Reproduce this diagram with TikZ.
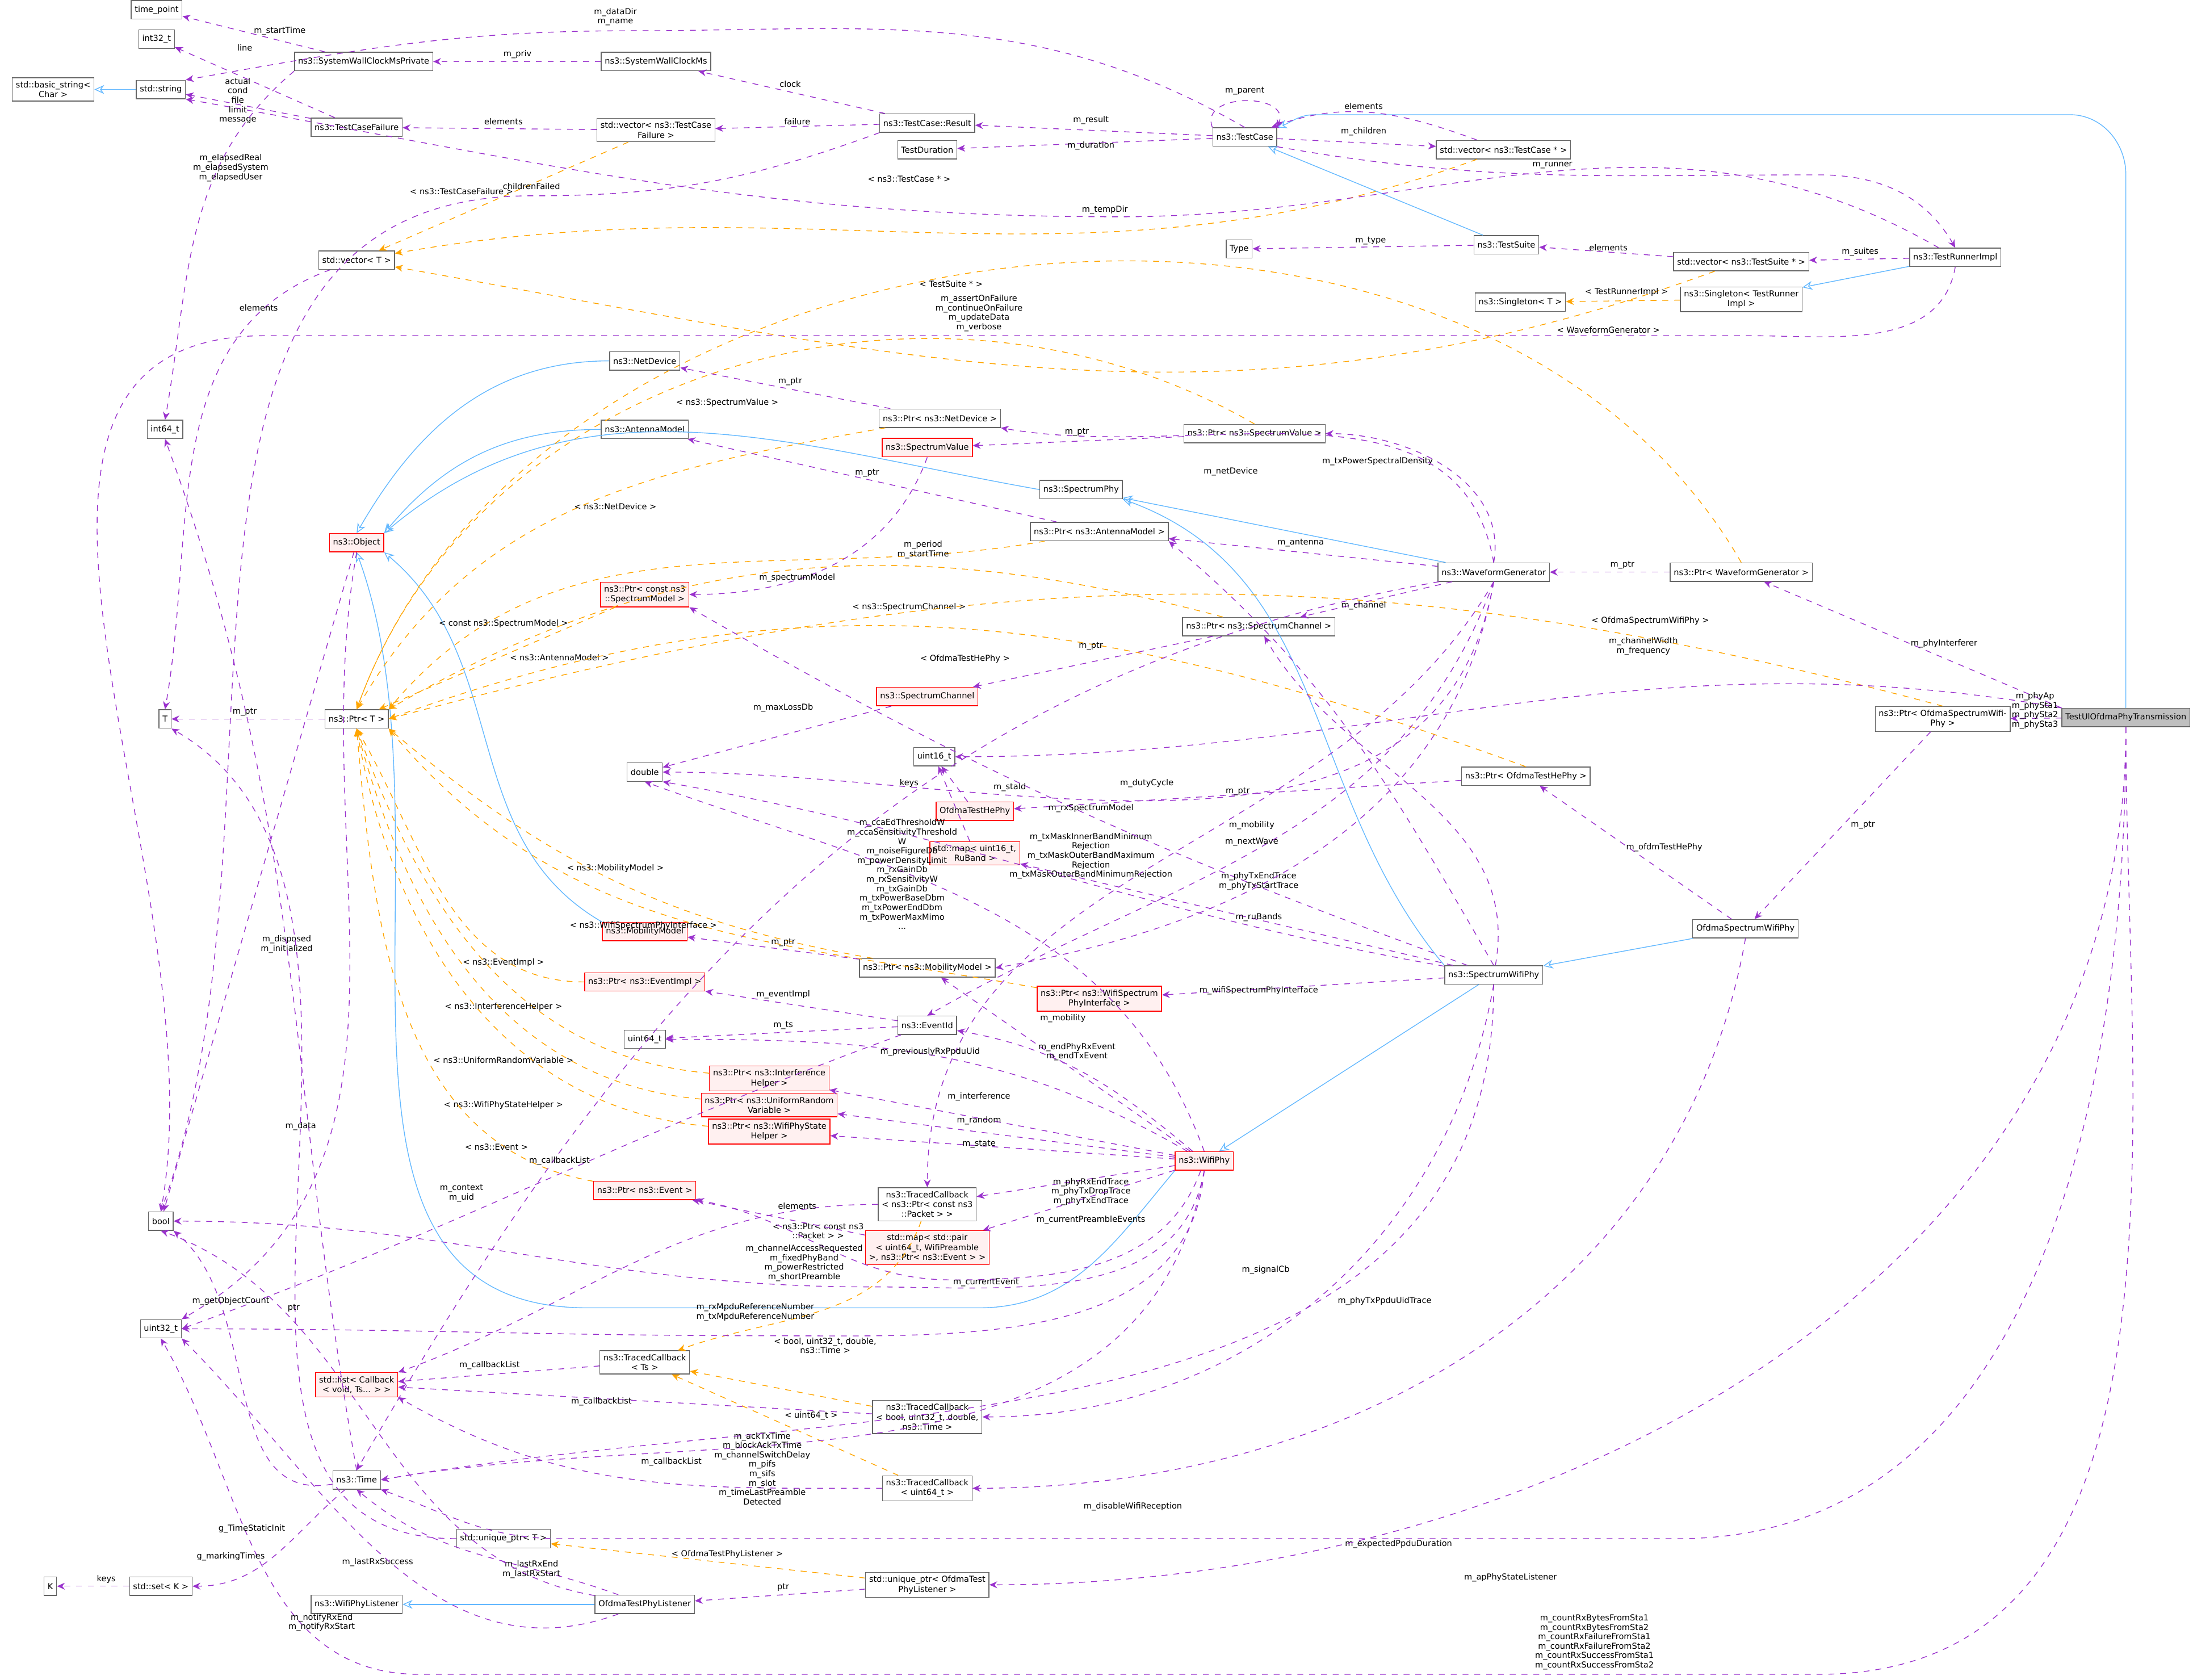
\documentclass[tikz,border=0pt]{standalone}
\usepackage{fontspec}
\setmainfont{DejaVu Sans}
\usetikzlibrary{arrows.meta}
\definecolor{usec}{HTML}{9A32CD}
\definecolor{inhc}{HTML}{63B8FF}
\definecolor{tmc}{HTML}{FFA500}
\definecolor{redf}{HTML}{FFF0F0}
\tikzset{
 box/.style={draw=black!60,fill=white,font=\fontsize{4.2}{5}\selectfont,inner sep=1.8pt,align=center,minimum height=0.33cm},
 rbox/.style={box,draw=red,fill=redf},
 gbox/.style={box,fill=black!25},
 use/.style={draw=usec,dashed,-{Stealth[length=4pt,width=3.5pt]},thin},
 tmpl/.style={draw=tmc,dashed,-{Stealth[length=4pt,width=3.5pt]},thin},
 inh/.style={draw=inhc,-{Stealth[open,length=5pt,width=4.5pt]},thin},
 lb/.style={font=\fontsize{4.2}{4.8}\selectfont,align=center,inner sep=0.5pt}
}
\begin{document}
\begin{tikzpicture}[x=0.025cm,y=-0.025cm]
\useasboundingbox (0,0) rectangle (1568,1201);
% nodes
\node[box] (tp) at (112,7) {time\_point};
\node[box] (i32) at (112,28) {int32\_t};
\node[box] (bstr) at (38,64) {std::basic\_string\textless\\Char \textgreater};
\node[box] (str) at (115,64) {std::string};
\node[box] (swcp) at (260,44) {ns3::SystemWallClockMsPrivate};
\node[box] (tcf) at (255,91) {ns3::TestCaseFailure};
\node[box] (swc) at (469,44) {ns3::SystemWallClockMs};
\node[box] (vtcf) at (469,93) {std::vector\textless{} ns3::TestCase\\Failure \textgreater};
\node[box] (res) at (663,88) {ns3::TestCase::Result};
\node[box] (tdur) at (663,107) {TestDuration};
\node[box] (tc) at (890,98) {ns3::TestCase};
\node[box] (vtc) at (1075,107) {std::vector\textless{} ns3::TestCase * \textgreater};
\node[box] (vt) at (255,186) {std::vector\textless{} T \textgreater};
\node[box] (type) at (886,178) {Type};
\node[box] (ts) at (1077,175) {ns3::TestSuite};
\node[box] (vts) at (1245,187) {std::vector\textless{} ns3::TestSuite * \textgreater};
\node[box] (tri) at (1398,184) {ns3::TestRunnerImpl};
\node[box] (sgt) at (1087,216) {ns3::Singleton\textless{} T \textgreater};
\node[box] (sgtr) at (1245,214) {ns3::Singleton\textless{} TestRunner\\Impl \textgreater};
\node[box] (i64) at (118,307) {int64\_t};
\node[box] (nd) at (461,258) {ns3::NetDevice};
\node[box] (pnd) at (672,299) {ns3::Ptr\textless{} ns3::NetDevice \textgreater};
\node[rbox] (sv) at (663,320) {ns3::SpectrumValue};
\node[box] (psv) at (897,310) {ns3::Ptr\textless{} ns3::SpectrumValue \textgreater};
\node[box] (am) at (461,307) {ns3::AntennaModel};
\node[box] (sp) at (773,350) {ns3::SpectrumPhy};
\node[rbox] (obj) at (255,388) {ns3::Object};
\node[box] (pam) at (786,380) {ns3::Ptr\textless{} ns3::AntennaModel \textgreater};
\node[box] (wg) at (1068,409) {ns3::WaveformGenerator};
\node[box] (pwg) at (1245,409) {ns3::Ptr\textless{} WaveformGenerator \textgreater};
\node[rbox] (psm) at (461,425) {ns3::Ptr\textless{} const ns3\\::SpectrumModel \textgreater};
\node[box] (psc) at (900,448) {ns3::Ptr\textless{} ns3::SpectrumChannel \textgreater};
\node[box] (T) at (118,514) {T};
\node[box] (pt) at (255,514) {ns3::Ptr\textless{} T \textgreater};
\node[rbox] (sc) at (663,498) {ns3::SpectrumChannel};
\node[box] (dbl) at (461,552) {double};
\node[box] (u16) at (668,541) {uint16\_t};
\node[rbox] (othp) at (697,580) {OfdmaTestHePhy};
\node[box] (pothp) at (1091,555) {ns3::Ptr\textless{} OfdmaTestHePhy \textgreater};
\node[rbox] (rub) at (697,610) {std::map\textless{} uint16\_t,\\RuBand \textgreater};
\node[box] (posw) at (1389,514) {ns3::Ptr\textless{} OfdmaSpectrumWifi-\\Phy \textgreater};
\node[gbox] (tul) at (1520,513) {TestUlOfdmaPhyTransmission};
\node[rbox] (mm) at (461,666) {ns3::MobilityModel};
\node[box] (pmm) at (663,692) {ns3::Ptr\textless{} ns3::MobilityModel \textgreater};
\node[box] (osw) at (1248,664) {OfdmaSpectrumWifiPhy};
\node[box] (swp) at (1068,697) {ns3::SpectrumWifiPhy};
\node[rbox] (pei) at (461,702) {ns3::Ptr\textless{} ns3::EventImpl \textgreater};
\node[rbox] (pwspi) at (786,714) {ns3::Ptr\textless{} ns3::WifiSpectrum\\PhyInterface \textgreater};
\node[box] (eid) at (663,733) {ns3::EventId};
\node[box] (u64) at (461,743) {uint64\_t};
\node[rbox] (pih) at (550,771) {ns3::Ptr\textless{} ns3::Interference\\Helper \textgreater};
\node[rbox] (purv) at (550,790) {ns3::Ptr\textless{} ns3::UniformRandom\\Variable \textgreater};
\node[rbox] (psh) at (550,809) {ns3::Ptr\textless{} ns3::WifiPhyState\\Helper \textgreater};
\node[rbox] (wp) at (861,830) {ns3::WifiPhy};
\node[rbox] (pev) at (461,851) {ns3::Ptr\textless{} ns3::Event \textgreater};
\node[box] (tcp) at (663,861) {ns3::TracedCallback\\\textless{} ns3::Ptr\textless{} const ns3\\::Packet \textgreater{} \textgreater};
\node[rbox] (mpe) at (663,892) {std::map\textless{} std::pair\\\textless{} uint64\_t, WifiPreamble\\\textgreater, ns3::Ptr\textless{} ns3::Event \textgreater{} \textgreater};
\node[box] (bool) at (115,873) {bool};
\node[box] (u32) at (115,950) {uint32\_t};
\node[box] (tcts) at (461,974) {ns3::TracedCallback\\\textless{} Ts \textgreater};
\node[rbox] (lst) at (255,990) {std::list\textless{} Callback\\\textless{} void, Ts... \textgreater{} \textgreater};
\node[box] (tcb) at (663,1013) {ns3::TracedCallback\\\textless{} bool, uint32\_t, double,\\ns3::Time \textgreater};
\node[box] (tcu) at (663,1064) {ns3::TracedCallback\\\textless{} uint64\_t \textgreater};
\node[box] (time) at (255,1058) {ns3::Time};
\node[box] (upt) at (360,1100) {std::unique\_ptr\textless{} T \textgreater};
\node[box] (upl) at (663,1133) {std::unique\_ptr\textless{} OfdmaTest\\PhyListener \textgreater};
\node[box] (K) at (36,1134) {K};
\node[box] (setk) at (115,1134) {std::set\textless{} K \textgreater};
\node[box] (wpl) at (255,1147) {ns3::WifiPhyListener};
\node[box] (otpl) at (461,1147) {OfdmaTestPhyListener};
% inheritance
\draw[inh] (str) -- (bstr);
\draw[inh] (ts) -- (tc);
\draw[inh] (tul.north) -- (1520,125) to[out=90,in=0] (1480,82) -- (940,82) to[out=180,in=20] (tc.north east);
\draw[inh] (tri) -- (sgtr);
\draw[inh] (nd.west) to[out=180,in=60] (obj.north);
\draw[inh] (am.west) to[out=180,in=50] (obj.north east);
\draw[inh] (sp.west) to[out=170,in=40] (obj.north east);
\draw[inh] (mm.north west) to[out=150,in=-40] (obj.south east);
\draw[inh] (wg) -- (sp);
\draw[inh] (swp.north west) to[out=130,in=-20] (sp.south east);
\draw[inh] (osw) -- (swp);
\draw[inh] (swp) -- (wp);
\draw[inh] (wp.south west) to[out=230,in=0] (700,935) -- (420,935) to[out=180,in=-70] (obj.south);
\draw[inh] (otpl) -- (wpl);
% template instantiation
\draw[tmpl] (vtcf) -- (vt) node[lb,at={(330,137)}] {\textless{} ns3::TestCaseFailure \textgreater};
\draw[tmpl] (vtc) to[out=200,in=10] (vt) node[lb,at={(650,128)}] {\textless{} ns3::TestCase * \textgreater};
\draw[tmpl] (vts) to[out=200,in=-10] (vt) node[lb,at={(680,203)}] {\textless{} TestSuite * \textgreater};
\draw[tmpl] (sgtr) -- (sgt) node[lb,at={(1163,209)}] {\textless{} TestRunnerImpl \textgreater};
\draw[tmpl] (pnd) to[out=190,in=60] (pt.north) node[lb,at={(440,362)}] {\textless{} ns3::NetDevice \textgreater};
\draw[tmpl] (psv.north) to[out=150,in=70] (pt.north) node[lb,at={(520,288)}] {\textless{} ns3::SpectrumValue \textgreater};
\draw[tmpl] (pam) to[out=190,in=50] (pt.north east) node[lb,at={(400,470)}] {\textless{} ns3::AntennaModel \textgreater};
\draw[tmpl] (pwg.north) to[out=120,in=70] (pt.north) node[lb,at={(1150,236)}] {\textless{} WaveformGenerator \textgreater};
\draw[tmpl] (psm) -- (pt) node[lb,at={(360,446)}] {\textless{} const ns3::SpectrumModel \textgreater};
\draw[tmpl] (psc) to[out=165,in=30] (pt.north east) node[lb,at={(650,434)}] {\textless{} ns3::SpectrumChannel \textgreater};
\draw[tmpl] (pothp.north) to[out=160,in=20] (pt.east) node[lb,at={(690,471)}] {\textless{} OfdmaTestHePhy \textgreater};
\draw[tmpl] (posw.north) to[out=165,in=15] (pt.east) node[lb,at={(1180,444)}] {\textless{} OfdmaSpectrumWifiPhy \textgreater};
\draw[tmpl] (pmm) to[out=170,in=-40] (pt.south east) node[lb,at={(440,621)}] {\textless{} ns3::MobilityModel \textgreater};
\draw[tmpl] (pwspi) to[out=170,in=-50] (pt.south east) node[lb,at={(460,662)}] {\textless{} ns3::WifiSpectrumPhyInterface \textgreater};
\draw[tmpl] (pei) to[out=180,in=-60] (pt.south) node[lb,at={(360,688)}] {\textless{} ns3::EventImpl \textgreater};
\draw[tmpl] (pih) to[out=175,in=-70] (pt.south) node[lb,at={(360,720)}] {\textless{} ns3::InterferenceHelper \textgreater};
\draw[tmpl] (purv) to[out=175,in=-75] (pt.south) node[lb,at={(360,758)}] {\textless{} ns3::UniformRandomVariable \textgreater};
\draw[tmpl] (psh) to[out=175,in=-80] (pt.south) node[lb,at={(360,790)}] {\textless{} ns3::WifiPhyStateHelper \textgreater};
\draw[tmpl] (pev) to[out=170,in=-85] (pt.south) node[lb,at={(355,820)}] {\textless{} ns3::Event \textgreater};
\draw[tmpl] (tcp) to[out=250,in=20] (tcts) node[lb,at={(585,880)}] {\textless{} ns3::Ptr\textless{} const ns3\\::Packet \textgreater{} \textgreater};
\draw[tmpl] (tcb) -- (tcts) node[lb,at={(590,962)}] {\textless{} bool, uint32\_t, double,\\ns3::Time \textgreater};
\draw[tmpl] (tcu) -- (tcts) node[lb,at={(580,1012)}] {\textless{} uint64\_t \textgreater};
\draw[tmpl] (upl) -- (upt) node[lb,at={(520,1111)}] {\textless{} OfdmaTestPhyListener \textgreater};
% usage
\draw[use] (swcp) -- (tp) node[lb,at={(200,22)}] {m\_startTime};
\draw[use] (tcf) -- (i32) node[lb,at={(175,34)}] {line};
\draw[use] (tcf) -- (str) node[lb,at={(170,72)}] {actual\\cond\\file\\limit\\message};
\draw[use] (swcp.south west) to[out=220,in=80] (i64.north) node[lb,at={(165,120)}] {m\_elapsedReal\\m\_elapsedSystem\\m\_elapsedUser};
\draw[use] (swc) -- (swcp) node[lb,at={(370,39)}] {m\_priv};
\draw[use] (vtcf) -- (tcf) node[lb,at={(360,87)}] {elements};
\draw[use] (res) -- (swc) node[lb,at={(565,60)}] {clock};
\draw[use] (res) -- (vtcf) node[lb,at={(570,87)}] {failure};
\draw[use] (res.south west) to[out=200,in=0] (380,140) to[out=180,in=70] (bool.north) node[lb,at={(380,133)}] {childrenFailed};
\draw[use] (tc) -- (res) node[lb,at={(780,86)}] {m\_result};
\draw[use] (tc) -- (tdur) node[lb,at={(780,104)}] {m\_duration};
\draw[use] (tc.north west) .. controls +(-10,-25) and +(10,-25) .. (tc.north east) node[lb,at={(890,65)}] {m\_parent};
\draw[use] (tc.north) to[out=150,in=0] (450,22) to[out=180,in=10] (str.north east) node[lb,at={(440,12)}] {m\_dataDir\\m\_name};
\draw[use] (tc) -- (vtc) node[lb,at={(975,94)}] {m\_children};
\draw[use] (vtc) to[out=160,in=20] (tc) node[lb,at={(975,76)}] {elements};
\draw[use] (tc.south east) to[out=-10,in=180] (1300,125) to[out=0,in=120] (tri.north) node[lb,at={(1110,118)}] {m\_runner};
\draw[use] (tri) to[out=150,in=0] (800,155) to[out=180,in=-10] (str.south east) node[lb,at={(790,150)}] {m\_tempDir};
\draw[use] (ts) -- (type) node[lb,at={(980,172)}] {m\_type};
\draw[use] (vts) -- (ts) node[lb,at={(1150,177)}] {elements};
\draw[use] (tri) -- (vts) node[lb,at={(1330,180)}] {m\_suites};
\draw[use] (tri.south) to[out=-100,in=0] (1250,240) -- (190,240) to[out=180,in=80] (bool.north) node[lb,at={(700,224)}] {m\_assertOnFailure\\m\_continueOnFailure\\m\_updateData\\m\_verbose};
\draw[use] (vt) to[out=200,in=80] (T.north) node[lb,at={(185,220)}] {elements};
\draw[use] (pnd) -- (nd) node[lb,at={(565,273)}] {m\_ptr};
\draw[use] (psv) -- (sv) node[lb,at={(770,309)}] {m\_ptr};
\draw[use] (wg.north) to[out=80,in=0] (psv.east) node[lb,at={(985,330)}] {m\_txPowerSpectralDensity};
\draw[use] (wg.north) to[out=100,in=-10] (pnd.south east) node[lb,at={(880,337)}] {m\_netDevice};
\draw[use] (pam) -- (am) node[lb,at={(620,338)}] {m\_ptr};
\draw[use] (wg) -- (pam) node[lb,at={(930,388)}] {m\_antenna};
\draw[use] (pwg) -- (wg) node[lb,at={(1160,404)}] {m\_ptr};
\draw[use] (tul.north west) -- (pwg) node[lb,at={(1390,460)}] {m\_phyInterferer};
\draw[use] (sv.south) to[out=-110,in=0] (psm.east) node[lb,at={(570,413)}] {m\_spectrumModel};
\draw[use] (wg) -- (psc) node[lb,at={(975,433)}] {m\_channel};
\draw[use] (psc) -- (sc) node[lb,at={(780,462)}] {m\_ptr};
\draw[use] (wg) to[out=190,in=60] (time.north) node[lb,at={(660,393)}] {m\_period\\m\_startTime};
\draw[use] (wg.south) to[out=-100,in=0] (dbl.east) node[lb,at={(820,560)}] {m\_dutyCycle};
\draw[use] (obj) -- (bool) node[lb,at={(205,675)}] {m\_disposed\\m\_initialized};
\draw[use] (pt) -- (T) node[lb,at={(175,509)}] {m\_ptr};
\draw[use] (sc) -- (dbl) node[lb,at={(560,506)}] {m\_maxLossDb};
\draw[use] (tul.north west) to[out=170,in=0] (u16.east) node[lb,at={(1175,462)}] {m\_channelWidth\\m\_frequency};
\draw[use] (othp) -- (u16) node[lb,at={(722,563)}] {m\_staId};
\draw[use] (rub) -- (u16) node[lb,at={(650,560)}] {keys};
\draw[use] (pothp) -- (othp) node[lb,at={(885,566)}] {m\_ptr};
\draw[use] (osw) -- (pothp) node[lb,at={(1190,606)}] {m\_ofdmTestHePhy};
\draw[use] (posw) -- (osw) node[lb,at={(1332,590)}] {m\_ptr};
\draw[use] (tul) -- (posw) node[lb,at={(1455,508)}] {m\_phyAp\\m\_phySta1\\m\_phySta2\\m\_phySta3};
\draw[use] (swp) -- (rub) node[lb,at={(900,656)}] {m\_ruBands};
\draw[use] (swp) to[out=80,in=-60] (psc);
\draw[use] (swp.north) to[out=120,in=-40] (pam.south east);
\draw[use] (swp) to[out=170,in=-10] (dbl.south east) node[lb,at={(780,612)}] {m\_txMaskInnerBandMinimum\\Rejection\\m\_txMaskOuterBandMaximum\\Rejection\\m\_txMaskOuterBandMinimumRejection};
\draw[use] (swp) to[out=160,in=-30] (psm.south east) node[lb,at={(780,578)}] {m\_rxSpectrumModel};
\draw[use] (swp) -- (pwspi) node[lb,at={(900,708)}] {m\_wifiSpectrumPhyInterface};
\draw[use] (wg.south) to[out=-120,in=90] (tcp.north) node[lb,at={(900,630)}] {m\_phyTxEndTrace\\m\_phyTxStartTrace};
\draw[use] (wg.south) to[out=-110,in=30] (eid.north) node[lb,at={(895,602)}] {m\_nextWave};
\draw[use] (wg.south) to[out=-100,in=10] (pmm.east) node[lb,at={(895,590)}] {m\_mobility};
\draw[use] (pmm) -- (mm) node[lb,at={(560,674)}] {m\_ptr};
\draw[use] (wp) -- (pmm) node[lb,at={(760,728)}] {m\_mobility};
\draw[use] (wp.north) to[out=110,in=-20] (dbl.south) node[lb,at={(645,625)}] {m\_ccaEdThresholdW\\m\_ccaSensitivityThreshold\\W\\m\_noiseFigureDb\\m\_powerDensityLimit\\m\_rxGainDb\\m\_rxSensitivityW\\m\_txGainDb\\m\_txPowerBaseDbm\\m\_txPowerEndDbm\\m\_txPowerMaxMimo\\...};
\draw[use] (eid) -- (pei) node[lb,at={(560,711)}] {m\_eventImpl};
\draw[use] (eid) -- (u64) node[lb,at={(560,733)}] {m\_ts};
\draw[use] (eid) to[out=200,in=20] (u32.east) node[lb,at={(330,853)}] {m\_context\\m\_uid};
\draw[use] (wp) to[out=140,in=-10] (eid) node[lb,at={(770,752)}] {m\_endPhyRxEvent\\m\_endTxEvent};
\draw[use] (wp) to[out=150,in=0] (u64) node[lb,at={(665,752)}] {m\_previouslyRxPpduUid};
\draw[use] (wp) -- (pih) node[lb,at={(700,784)}] {m\_interference};
\draw[use] (wp) -- (purv) node[lb,at={(700,801)}] {m\_random};
\draw[use] (wp) -- (psh) node[lb,at={(700,818)}] {m\_state};
\draw[use] (wp) -- (tcp) node[lb,at={(780,852)}] {m\_phyRxEndTrace\\m\_phyTxDropTrace\\m\_phyTxEndTrace};
\draw[use] (wp) -- (mpe) node[lb,at={(780,872)}] {m\_currentPreambleEvents};
\draw[use] (mpe) -- (pev) node[lb,at={(570,862)}] {elements};
\draw[use] (wp) to[out=-110,in=0] (680,915) to[out=180,in=-10] (pev.south east) node[lb,at={(705,917)}] {m\_currentEvent};
\draw[use] (wp.south) to[out=-100,in=0] (620,920) to[out=180,in=0] (bool.east) node[lb,at={(575,903)}] {m\_channelAccessRequested\\m\_fixedPhyBand\\m\_powerRestricted\\m\_shortPreamble};
\draw[use] (wp.south) to[out=-95,in=0] (560,955) to[out=180,in=0] (u32.east) node[lb,at={(540,938)}] {m\_rxMpduReferenceNumber\\m\_txMpduReferenceNumber};
\draw[use] (tcp) to[out=180,in=20] (lst.north east) node[lb,at={(400,830)}] {m\_callbackList};
\draw[use] (tcts) -- (lst) node[lb,at={(350,976)}] {m\_callbackList};
\draw[use] (tcb) -- (lst) node[lb,at={(430,1002)}] {m\_callbackList};
\draw[use] (tcu) to[out=180,in=-30] (lst.south east) node[lb,at={(480,1045)}] {m\_callbackList};
\draw[use] (swp.south) to[out=-100,in=0] (tcb.east) node[lb,at={(905,908)}] {m\_signalCb};
\draw[use] (wp.south) to[out=-100,in=10] (time.east) node[lb,at={(545,1050)}] {m\_ackTxTime\\m\_blockAckTxTime\\m\_channelSwitchDelay\\m\_pifs\\m\_sifs\\m\_slot\\m\_timeLastPreamble\\Detected};
\draw[use] (osw.south) to[out=-100,in=0] (tcu.east) node[lb,at={(990,930)}] {m\_phyTxPpduUidTrace};
\draw[use] (swp.south) to[out=-90,in=10] (time.east) node[lb,at={(810,1077)}] {m\_disableWifiReception};
\draw[use] (tul.south) to[out=-90,in=0] (1200,1100) -- (400,1100) to[out=180,in=-20] (time.south east) node[lb,at={(1000,1104)}] {m\_expectedPpduDuration};
\draw[use] (tul.south) to[out=-90,in=0] (upl.east) node[lb,at={(1080,1128)}] {m\_apPhyStateListener};
\draw[use] (tul.south) to[out=-90,in=0] (1300,1197) -- (300,1197) to[out=180,in=-60] (u32.south) node[lb,at={(1140,1174)}] {m\_countRxBytesFromSta1\\m\_countRxBytesFromSta2\\m\_countRxFailureFromSta1\\m\_countRxFailureFromSta2\\m\_countRxSuccessFromSta1\\m\_countRxSuccessFromSta2};
\draw[use] (time.north) to[out=100,in=-70] (i64.south) node[lb,at={(215,805)}] {m\_data};
\draw[use] (time) to[out=190,in=-40] (bool.south east) node[lb,at={(180,1093)}] {g\_TimeStaticInit};
\draw[use] (time) to[out=220,in=0] (setk.east) node[lb,at={(165,1113)}] {g\_markingTimes};
\draw[use] (setk) -- (K) node[lb,at={(76,1129)}] {keys};
\draw[use] (obj.south) to[out=-100,in=30] (u32.north east) node[lb,at={(165,930)}] {m\_getObjectCount};
\draw[use] (upt) to[out=180,in=-30] (T.south east) node[lb,at={(210,935)}] {ptr};
\draw[use] (upl) -- (otpl) node[lb,at={(560,1135)}] {ptr};
\draw[use] (otpl) to[out=160,in=-40] (time.south) node[lb,at={(380,1122)}] {m\_lastRxEnd\\m\_lastRxStart};
\draw[use] (otpl) to[out=170,in=-20] (bool.south) node[lb,at={(270,1117)}] {m\_lastRxSuccess};
\draw[use] (otpl) to[out=200,in=-45] (u32.south east) node[lb,at={(230,1160)}] {m\_notifyRxEnd\\m\_notifyRxStart};
\end{tikzpicture}
\end{document}
